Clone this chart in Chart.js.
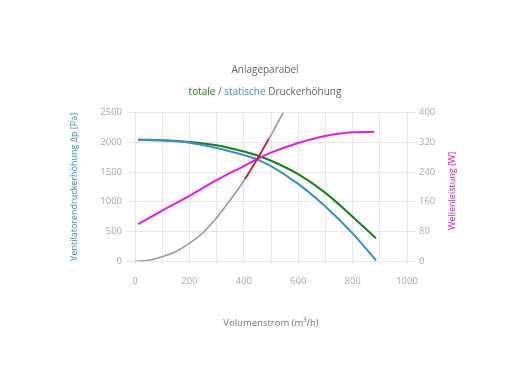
<!DOCTYPE html>
<html lang="de">

<head>
    <meta charset="UTF-8">
    <title>Anlageparabel</title>
    <script src="https://cdn.jsdelivr.net/npm/chart.js"></script>
    <style>
        body {
            margin: 0;
            background: #fff;
        }
    </style>
</head>

<body>
    <canvas id="grafico" width="530" height="390"></canvas>
    <script>
        // Kennlinien (x = Volumenstrom m³/h)
        const ventilatorX = [12, 100, 200, 300, 400, 450, 500, 600, 700, 800, 886];
        const statisch = [2044, 2030, 1992, 1905, 1785, 1708, 1600, 1300, 920, 470, 15];
        const totale = [2044, 2035, 2005, 1950, 1845, 1778, 1690, 1465, 1150, 750, 385];

        const leistungX = [12, 100, 200, 300, 400, 450, 500, 600, 700, 800, 880];
        const leistung = [100, 136, 176, 218, 256, 275, 292, 318, 337, 347, 348];

        const anlageX = [0, 50, 100, 150, 200, 250, 300, 350, 400, 450, 500, 545];
        const anlage = [0, 18, 75, 165, 300, 480, 730, 1030, 1350, 1720, 2120, 2500];

        const betriebX = [405, 420, 440, 460, 480, 492];
        const betrieb = [1387, 1498, 1646, 1800, 1960, 2056];

        const xTicks = [0, 200, 400, 600, 800, 1000];
        const titel = 'Anlageparabel';
        const untertitel = [['totale', '#1a7f1a'], [' / ', '#666'], ['statische', '#3a8fc8'], [' Druckerhöhung', '#666']];
        const rechterTitel = 'Wellenleistung [W]';

        const FONT = '"Open Sans", sans-serif';

        function punkte(xs, ys) {
            return xs.map((x, i) => ({ x: x, y: ys[i] }));
        }

        const untertitelText = untertitel.map(t => t[0]).join('');

        // farbiger Untertitel + rechte Achsenbeschriftung (von unten nach oben)
        const textPlugin = {
            id: 'textFarbig',
            afterDraw(chart) {
                const ctx = chart.ctx;
                const box = chart.boxes.find(b => b.options && b.options.text === untertitelText);
                ctx.save();
                if (box) {
                    ctx.font = '10px ' + FONT;
                    ctx.textBaseline = 'middle';
                    ctx.textAlign = 'left';
                    const breite = ctx.measureText(untertitelText).width;
                    let x = (box.left + box.right) / 2 - breite / 2;
                    const y = box.top + 6;
                    untertitel.forEach(([text, farbe]) => {
                        ctx.fillStyle = farbe;
                        ctx.fillText(text, x, y);
                        x += ctx.measureText(text).width;
                    });
                }
                const area = chart.chartArea;
                ctx.translate(452, (area.top + area.bottom) / 2 + 4);
                ctx.rotate(-Math.PI / 2);
                ctx.font = '9px ' + FONT;
                ctx.textAlign = 'center';
                ctx.textBaseline = 'middle';
                ctx.fillStyle = '#d020d0';
                ctx.fillText(rechterTitel, 0, 0);
                ctx.restore();
            }
        };

        const grid = '#e8e8e8';
        const tickFarbe = '#aaaaaa';
        const tickFont = { family: FONT, size: 9.5 };

        new Chart(document.getElementById('grafico').getContext('2d'), {
            type: 'scatter',
            data: {
                datasets: [
                    {
                        label: 'Betriebspunkt',
                        data: punkte(betriebX, betrieb),
                        borderColor: '#c8102e',
                        borderWidth: 1.6,
                        showLine: true,
                        pointRadius: 0,
                        yAxisID: 'y',
                        order: 0
                    },
                    {
                        label: 'statisch',
                        data: punkte(ventilatorX, statisch),
                        borderColor: '#3a8fc8',
                        borderWidth: 2,
                        showLine: true,
                        pointRadius: 0,
                        cubicInterpolationMode: 'monotone',
                        yAxisID: 'y',
                        order: 2
                    },
                    {
                        label: 'total',
                        data: punkte(ventilatorX, totale),
                        borderColor: '#1a7f1a',
                        borderWidth: 2,
                        showLine: true,
                        pointRadius: 0,
                        cubicInterpolationMode: 'monotone',
                        yAxisID: 'y',
                        order: 3
                    },
                    {
                        label: 'Wellenleistung',
                        data: punkte(leistungX, leistung),
                        borderColor: '#e020e0',
                        borderWidth: 2,
                        showLine: true,
                        pointRadius: 0,
                        cubicInterpolationMode: 'monotone',
                        yAxisID: 'y1',
                        order: 1
                    },
                    {
                        label: 'Anlage',
                        data: punkte(anlageX, anlage),
                        borderColor: '#9a9a9a',
                        borderWidth: 1.6,
                        showLine: true,
                        pointRadius: 0,
                        cubicInterpolationMode: 'monotone',
                        yAxisID: 'y',
                        order: 4
                    }
                ]
            },
            options: {
                responsive: false,
                animation: false,
                layout: { padding: 0 },
                plugins: {
                    legend: { display: false },
                    tooltip: { enabled: false },
                    title: {
                        display: true,
                        text: titel,
                        color: '#666',
                        font: { family: FONT, size: 10, weight: 'normal' },
                        padding: { top: 64, bottom: 10 }
                    },
                    subtitle: {
                        display: true,
                        text: untertitelText,
                        color: 'rgba(0,0,0,0)',
                        font: { family: FONT, size: 10 },
                        padding: { top: 0, bottom: 14.5 }
                    }
                },
                scales: {
                    x: {
                        type: 'linear',
                        min: 0,
                        max: 1000,
                        grid: { color: grid, tickLength: 3 },
                        border: { color: grid },
                        ticks: {
                            stepSize: 100,
                            color: tickFarbe,
                            font: tickFont,
                            padding: 11,
                            maxRotation: 0,
                            autoSkip: false,
                            callback: v => xTicks.includes(v) ? String(v) : ''
                        },
                        title: {
                            display: true,
                            text: 'Volumenstrom (m³/h)',
                            color: '#777',
                            font: { family: FONT, size: 9.5 },
                            padding: { top: 0, bottom: 61 }
                        },
                        afterFit: s => { s.height = 128.7; }
                    },
                    y: {
                        position: 'left',
                        min: 0,
                        max: 2500,
                        grid: { color: grid, tickLength: 8 },
                        border: { color: grid },
                        ticks: {
                            stepSize: 500,
                            color: tickFarbe,
                            font: tickFont,
                            padding: 5,
                            callback: v => String(v)
                        },
                        title: {
                            display: true,
                            text: 'Ventilatorendruckerhöhung Δp [Pa]',
                            color: '#3a8fc8',
                            font: { family: FONT, size: 9 },
                            padding: { top: 69, bottom: 69 }
                        },
                        afterFit: s => { s.width = 135; }
                    },
                    y1: {
                        position: 'right',
                        min: 0,
                        max: 400,
                        grid: { color: grid, tickLength: 8, drawOnChartArea: false },
                        border: { color: grid },
                        ticks: {
                            stepSize: 80,
                            color: tickFarbe,
                            font: tickFont,
                            padding: 4,
                            callback: v => String(v)
                        },
                        afterFit: s => { s.width = 123; }
                    }
                }
            },
            plugins: [textPlugin]
        });
    </script>
</body>

</html>
